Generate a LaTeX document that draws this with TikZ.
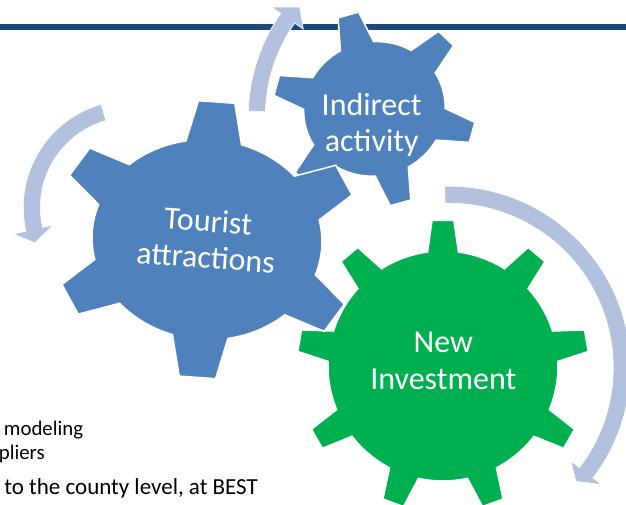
\documentclass[tikz,border=0pt]{standalone}
\usepackage{fontspec}
\setmainfont{Carlito}
\definecolor{gearblue}{RGB}{79,129,189}
\definecolor{geargreen}{RGB}{0,176,80}
\definecolor{arrowblue}{RGB}{178,193,222}
\definecolor{rulenavy}{RGB}{31,73,125}
% #1 style, #2 centre, #3 rotation, #4 teeth, #5 rw, #6 rh, #7 tooth height, #8 base half-angle, #9 tip half-angle
\newcommand{\drawgear}[9]{%
  \begin{scope}[shift={#2}, rotate=#3]
    \pgfmathsetmacro{\gstep}{360/#4}
    \pgfmathtruncatemacro{\glast}{#4-1}
    \pgfmathsetmacro{\grw}{#5}\pgfmathsetmacro{\grh}{#6}
    \pgfmathsetmacro{\gRw}{#5+#7}\pgfmathsetmacro{\gRh}{#6+#7}
    \path[#1] ({\grw*cos(90-#8)},{\grh*sin(90-#8)})
      \foreach \k in {0,...,\glast}{
        -- ({\gRw*cos(90+\k*\gstep-#9)},{\gRh*sin(90+\k*\gstep-#9)})
        -- ({\gRw*cos(90+\k*\gstep+#9)},{\gRh*sin(90+\k*\gstep+#9)})
        -- ({\grw*cos(90+\k*\gstep+#8)},{\grh*sin(90+\k*\gstep+#8)})
        arc[start angle={90+\k*\gstep+#8}, end angle={90+(\k+1)*\gstep-#8}, x radius=\grw, y radius=\grh]
      } -- cycle;
  \end{scope}}
% #1 centre, #2 Rin, #3 Rout, #4 tail angle, #5 barb angle, #6 barb inner R, #7 barb outer R, #8 tip angle, #9 tip R
\newcommand{\drawcarrow}[9]{%
  \begin{scope}[shift={#1}]
    \path[cyclearrow] (#4:#3) arc[start angle=#4, end angle=#5, radius=#3]
      -- (#5:#7) -- (#8:#9) -- (#5:#6) -- (#5:#2)
      arc[start angle=#5, end angle=#4, radius=#2] -- cycle;
  \end{scope}}
\begin{document}
\begin{tikzpicture}[x=1pt,y=1pt,
  bluegear/.style={fill=gearblue, draw=white, line width=1.5pt, line join=miter},
  greengear/.style={fill=geargreen, draw=white, line width=1.5pt, line join=miter},
  cyclearrow/.style={fill=arrowblue, draw=white, line width=0.6pt},
  ruleline/.style={draw=rulenavy, line width=5.5pt},
  geartext/.style={text=white, font=\fontsize{32}{36.5}\selectfont, align=center, inner sep=0pt},
  slidetext/.style={text=black, font=\fontsize{20.8}{25}\selectfont, inner sep=0pt, anchor=base east},
  slidetextb/.style={text=black, font=\fontsize{23}{27}\selectfont, inner sep=0pt, anchor=base east}]
\useasboundingbox (0,0) rectangle (626,504);
\clip (0,0) rectangle (626,504);
% top rule
\coordinate (ruleL) at (0,477);
\coordinate (ruleR) at (626,477);
\draw[ruleline] (ruleL) -- (ruleR);
% cycle arrows
\drawcarrow{(130.8,296.4)}{90.5}{107.5}{106}{192.7}{80}{120.5}{200.2}{102}
\drawcarrow{(427.8,387.6)}{162.5}{179.5}{178.3}{145}{152}{190.4}{139.5}{168.3}
\drawcarrow{(448.8,136.3)}{164.5}{181.5}{91.3}{-37.4}{153.7}{192.4}{-41.8}{170.5}
% gears
\drawgear{greengear}{(443,138)}{0}{9}{115}{115}{31}{7.7}{4.3}
\drawgear{bluegear}{(374.4,395.1)}{15.5}{6}{71}{67}{31}{14}{6}
\drawgear{bluegear}{(207,264.3)}{-4}{6}{115}{100}{39}{14}{6.8}
% gear labels
\node[geartext, rotate=-4] (tourist) at (207,264.7) {Tourist\\attractions};
\node[geartext] (indirect) at (371.7,379) {Indirect\\activity};
\node[geartext] (invest) at (443.3,143.4) {New\\Investment};
% slide text fragments
\node[slidetext] (frag1) at (83.3,68.3) {modeling};
\node[slidetext] (frag2) at (45,44.7) {pliers};
\node[slidetextb] (frag3) at (258,9.6) {to the county level, at BEST};
\end{tikzpicture}
\end{document}
